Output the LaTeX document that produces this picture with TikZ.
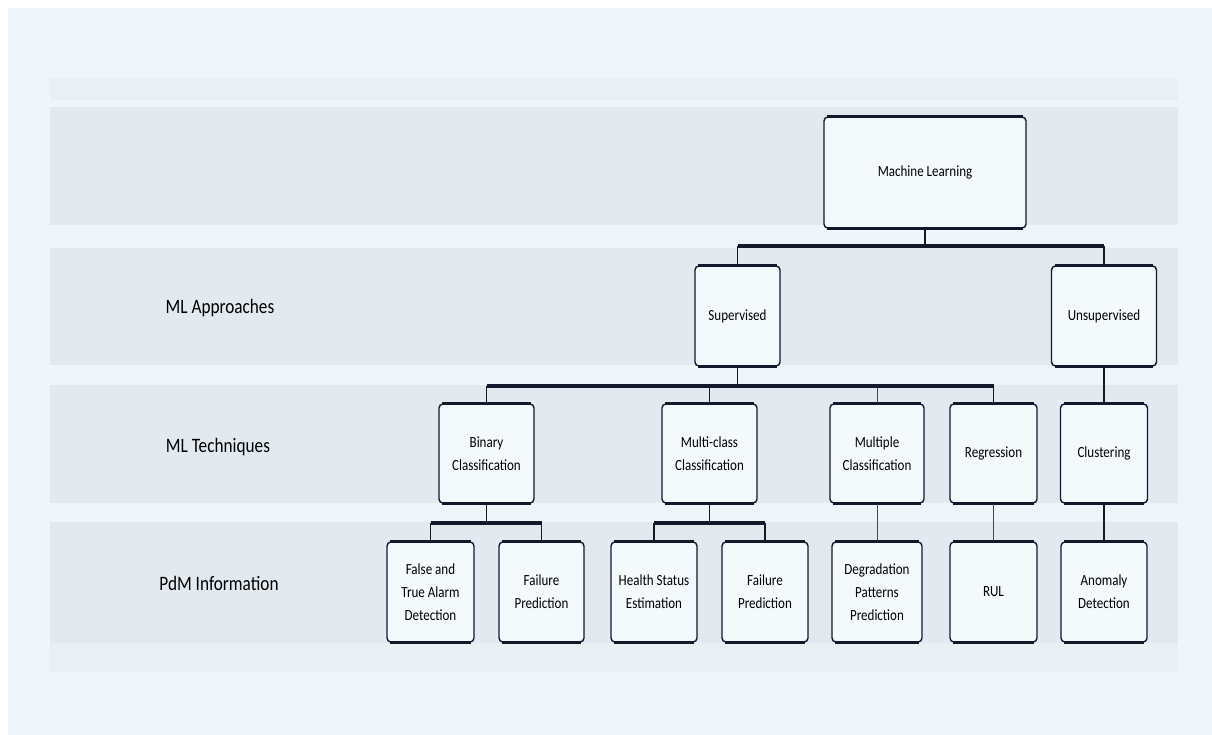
\documentclass[tikz,border=0pt]{standalone}
\usepackage{fontspec}
\setmainfont{Carlito}[FakeStretch=0.84]
\definecolor{pagebg}{HTML}{EFF5F8}
\definecolor{bandbg}{HTML}{E2EAF0}
\definecolor{thinband}{HTML}{E9F0F4}
\definecolor{boxfill}{HTML}{F4F9FC}
\definecolor{ink}{HTML}{15182A}
\tikzset{
  x=1pt, y=-1pt,
  box/.style={draw=ink, line width=1.4pt, rounded corners=4pt, fill=boxfill,
    align=center, inner sep=2pt, font=\fontsize{15.5}{23}\selectfont},
  rowlabel/.style={font=\fontsize{20.5}{24}\selectfont, anchor=center},
  bus/.style={draw=ink, line width=3.6pt},
  vline/.style={draw=ink, line width=1.8pt},
  hair/.style={draw=ink!80, line width=0.9pt},
  rim/.style={draw=ink, line width=2.6pt},
}
\begin{document}
\begin{tikzpicture}
\useasboundingbox (0,0) rectangle (1212,735);
\fill[white] (0,0) rectangle (1212,735);
\fill[pagebg] (8,8) rectangle (1212,735);
% bands
\fill[thinband] (50,78) rectangle (1178,100);
\fill[bandbg] (50,107) rectangle (1178,225);
\fill[bandbg] (50,248) rectangle (1178,365);
\fill[bandbg] (50,385) rectangle (1178,503);
\fill[bandbg] (50,522) rectangle (1178,643);
\fill[thinband] (50,643) rectangle (1178,672);

% row labels
\node[rowlabel] (lab1) at (220,308) {ML Approaches};
\node[rowlabel] (lab2) at (218,447) {ML Techniques};
\node[rowlabel] (lab3) at (219,583) {PdM Information};

% boxes
\node[box, minimum width=202, minimum height=111] (ml) at (925,172.5) {Machine Learning};
\node[box, minimum width=85, minimum height=100] (sup) at (737.5,316) {Supervised};
\node[box, minimum width=105, minimum height=100] (unsup) at (1104,316) {Unsupervised};

\node[box, minimum width=95, minimum height=99] (bin) at (486.5,453.5) {Binary\\Classification};
\node[box, minimum width=95, minimum height=99] (multi) at (709.5,453.5) {Multi-class\\Classification};
\node[box, minimum width=94, minimum height=99] (multiple) at (877,453.5) {Multiple\\Classification};
\node[box, minimum width=87, minimum height=99] (reg) at (993.5,453.5) {Regression};
\node[box, minimum width=87, minimum height=99] (clust) at (1104,453.5) {Clustering};

\node[box, minimum width=87, minimum height=100] (fta) at (430.5,592) {False and\\True Alarm\\Detection};
\node[box, minimum width=85, minimum height=100] (fp1) at (541.5,592) {Failure\\Prediction};
\node[box, minimum width=86, minimum height=100] (hse) at (654,592) {Health Status\\Estimation};
\node[box, minimum width=86, minimum height=100] (fp2) at (765,592) {Failure\\Prediction};
\node[box, minimum width=90, minimum height=100] (deg) at (877,592) {Degradation\\Patterns\\Prediction};
\node[box, minimum width=87, minimum height=100] (rul) at (993.5,592) {RUL};
\node[box, minimum width=86, minimum height=100] (anom) at (1104,592) {Anomaly\\Detection};

% heavier top and bottom rims of the boxes
\foreach \n in {ml,sup,unsup,bin,multi,multiple,reg,clust,fta,fp1,hse,fp2,deg,rul,anom}{
  \draw[rim] ([xshift=4pt]\n.north west) -- ([xshift=-4pt]\n.north east);
  \draw[rim] ([xshift=4pt]\n.south west) -- ([xshift=-4pt]\n.south east);
}

% bus levels
\coordinate (b1) at (0,246);
\coordinate (b2) at (0,386);
\coordinate (b3) at (0,523);

% level 1
\draw[vline] (ml.south) -- (ml.south |- b1);
\draw[vline] (sup.north |- b1) -- (sup.north);
\draw[vline] (unsup.north |- b1) -- (unsup.north);
\draw[bus] (sup.north |- b1) -- (unsup.north |- b1);

% level 2
\draw[vline] (sup.south) -- (sup.south |- b2);
\draw[vline] (bin.north |- b2) -- (bin.north);
\draw[vline] (multi.north |- b2) -- (multi.north);
\draw[hair] (multiple.north |- b2) -- (multiple.north);
\draw[vline] (reg.north |- b2) -- (reg.north);
\draw[bus] (bin.north |- b2) -- (reg.north |- b2);
\draw[vline] (unsup.south) -- (clust.north);

% level 3
\draw[vline] (bin.south) -- (bin.south |- b3);
\draw[vline] (fta.north |- b3) -- (fta.north);
\draw[vline] (fp1.north |- b3) -- (fp1.north);
\draw[bus] (fta.north |- b3) -- (fp1.north |- b3);
\draw[vline] (multi.south) -- (multi.south |- b3);
\draw[vline] (hse.north |- b3) -- (hse.north);
\draw[vline] (fp2.north |- b3) -- (fp2.north);
\draw[bus] (hse.north |- b3) -- (fp2.north |- b3);
\draw[hair] (multiple.south) -- (deg.north);
\draw[hair] (reg.south) -- (rul.north);
\draw[vline] (clust.south) -- (anom.north);
\end{tikzpicture}
\end{document}
